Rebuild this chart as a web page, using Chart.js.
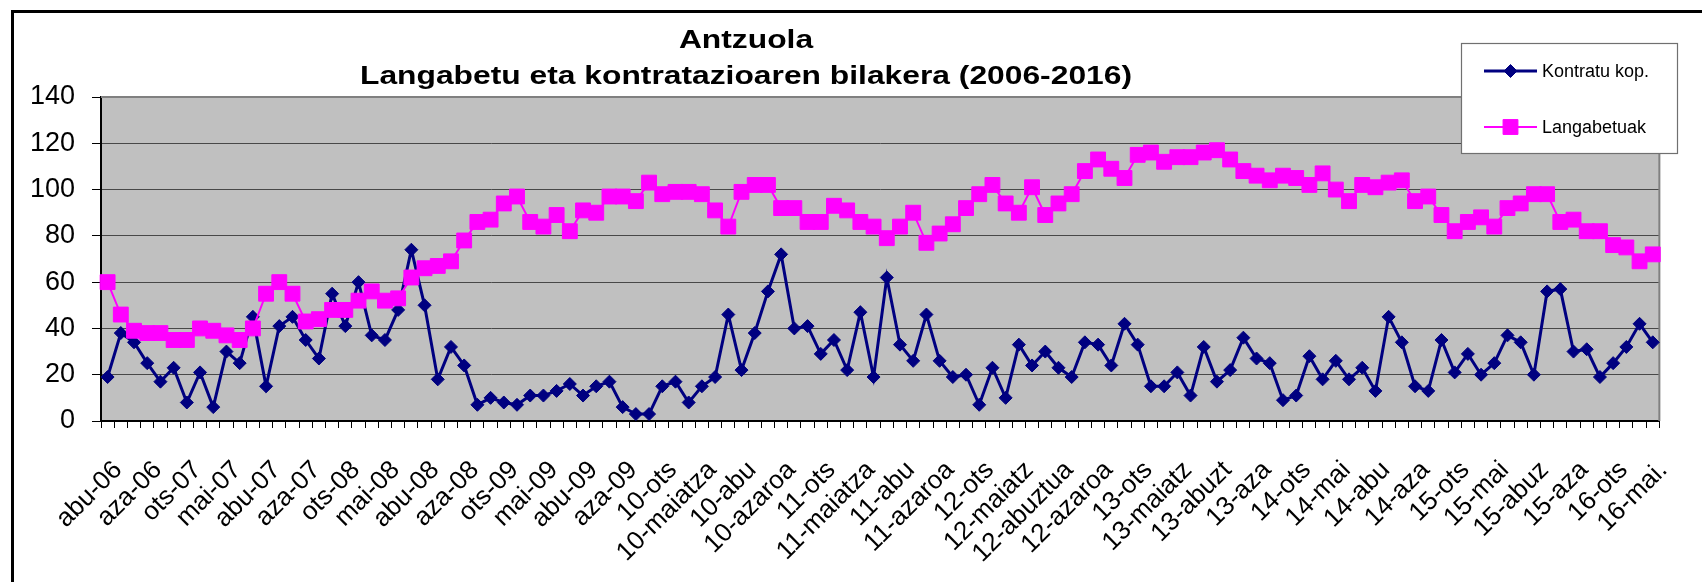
<!DOCTYPE html>
<html>
<head>
<meta charset="utf-8">
<script src="https://cdn.jsdelivr.net/npm/chart.js@4/dist/chart.umd.min.js"></script>
<style>
  html, body { margin: 0; padding: 0; background: #fff; }
  canvas { display: block; }
</style>
</head>
<body>
<canvas id="c" width="1702" height="582"></canvas>
<script>
const titleLines = ['Antzuola', 'Langabetu eta kontratazioaren bilakera (2006-2016)'];
const seriesNames = ['Kontratu kop.', 'Langabetuak'];

const tickLabels = ['abu-06','aza-06','ots-07','mai-07','abu-07','aza-07','ots-08','mai-08','abu-08','aza-08',
  'ots-09','mai-09','abu-09','aza-09','10-ots','10-maiatza','10-abu','10-azaroa','11-ots','11-maiatza',
  '11-abu','11-azaroa','12-ots','12-maiatz','12-abuztua','12-azaroa','13-ots','13-maiatz','13-abuzt','13-aza',
  '14-ots','14-mai','14-abu','14-aza','15-ots','15-mai','15-abuz','15-aza','16-ots','16-mai.'];

const kontratu = [
  19,38,34,25,17,23,8,21,6,30,
  25,45,15,41,45,35,27,55,41,60,
  37,35,48,74,50,18,32,24,7,10,
  8,7,11,11,13,16,11,15,17,6,
  3,3,15,17,8,15,19,46,22,38,
  56,72,40,41,29,35,22,47,19,62,
  33,26,46,26,19,20,7,23,10,33,
  24,30,23,19,34,33,24,42,33,15,
  15,21,11,32,17,22,36,27,25,9,
  11,28,18,26,18,23,13,45,34,15,
  13,35,21,29,20,25,37,34,20,56,
  57,30,31,19,25,32,42,34
];

const langabetuak = [
  60,46,39,38,38,35,35,40,39,37,
  35,40,55,60,55,43,44,48,48,52,
  56,52,53,62,66,67,69,78,86,87,
  94,97,86,84,89,82,91,90,97,97,
  95,103,98,99,99,98,91,84,99,102,
  102,92,92,86,86,93,91,86,84,79,
  84,90,77,81,85,92,98,102,94,90,
  101,89,94,98,108,113,109,105,115,116,
  112,114,114,116,117,113,108,106,104,106,
  105,102,107,100,95,102,101,103,104,95,
  97,89,82,86,88,84,92,94,98,98,
  86,87,82,82,76,75,69,72
];

const categories = kontratu.map((_, i) => (i % 3 === 0 ? tickLabels[i / 3] : ''));

const BLUE = '#000080';
const PINK = '#FF00FF';

function drawMarker(ctx, style, x, y, r, color) {
  ctx.save();
  ctx.fillStyle = color;
  ctx.strokeStyle = color;
  ctx.lineWidth = 1;
  ctx.beginPath();
  if (style === 'rectRot') {
    ctx.moveTo(x - r, y); ctx.lineTo(x, y - r); ctx.lineTo(x + r, y); ctx.lineTo(x, y + r);
  } else {
    const s = r * Math.SQRT1_2;
    ctx.rect(x - s, y - s, 2 * s, 2 * s);
  }
  ctx.closePath();
  ctx.fill();
  ctx.stroke();
  ctx.restore();
}

const decor = {
  id: 'decor',
  beforeDraw(chart) {
    const { ctx, chartArea: a } = chart;
    ctx.save();
    ctx.fillStyle = '#fff';
    ctx.fillRect(0, 0, chart.width, chart.height);
    ctx.fillStyle = '#C0C0C0';
    ctx.fillRect(a.left, a.top, a.right - a.left, a.bottom - a.top);
    ctx.strokeStyle = '#000';
    ctx.lineWidth = 3;
    ctx.beginPath();
    ctx.moveTo(12.5, chart.height + 5);
    ctx.lineTo(12.5, 11.5);
    ctx.lineTo(chart.width + 5, 11.5);
    ctx.stroke();
    ctx.restore();
  },
  beforeDatasetsDraw(chart) {
    const { ctx, chartArea: a } = chart;
    ctx.save();
    ctx.strokeStyle = '#808080';
    ctx.lineWidth = 2;
    ctx.beginPath();
    ctx.moveTo(a.left, a.top);
    ctx.lineTo(a.right, a.top);
    ctx.lineTo(a.right, a.bottom);
    ctx.stroke();
    ctx.restore();
  },
  afterDraw(chart) {
    const { ctx } = chart;
    ctx.save();
    // title
    ctx.fillStyle = '#000';
    ctx.font = 'bold 26px "Liberation Sans", Arial, sans-serif';
    ctx.textAlign = 'center';
    ctx.textBaseline = 'alphabetic';
    const w2 = ctx.measureText(titleLines[1]).width;
    const sx = 772 / w2;
    const cx = 746;
    [[titleLines[0], 48], [titleLines[1], 84]].forEach(([t, y]) => {
      ctx.save();
      ctx.translate(cx, y);
      ctx.scale(sx, 1);
      ctx.fillText(t, 0, 0);
      ctx.restore();
    });
    // legend
    const bx = 1461, by = 43, bw = 216, bh = 110;
    ctx.fillStyle = '#fff';
    ctx.fillRect(bx, by, bw, bh);
    ctx.strokeStyle = '#707070';
    ctx.lineWidth = 1.2;
    ctx.strokeRect(bx + 0.5, by + 0.5, bw, bh);
    const items = [
      { name: seriesNames[0], color: BLUE, style: 'rectRot', r: 6.5, y: 71, lw: 3 },
      { name: seriesNames[1], color: PINK, style: 'rect', r: 10.5, y: 127, lw: 2 }
    ];
    ctx.font = '18px "Liberation Sans", Arial, sans-serif';
    ctx.textAlign = 'left';
    ctx.textBaseline = 'middle';
    items.forEach(it => {
      ctx.strokeStyle = it.color;
      ctx.lineWidth = it.lw;
      ctx.beginPath();
      ctx.moveTo(1484, it.y);
      ctx.lineTo(1537, it.y);
      ctx.stroke();
      drawMarker(ctx, it.style, 1510.5, it.y, it.r, it.color);
      ctx.fillStyle = '#000';
      ctx.fillText(it.name, 1542, it.y + 1);
    });
    ctx.restore();
  }
};

new Chart(document.getElementById('c'), {
  type: 'line',
  data: {
    labels: categories,
    datasets: [
      {
        label: seriesNames[0],
        data: kontratu,
        borderColor: BLUE,
        backgroundColor: BLUE,
        borderWidth: 3,
        pointStyle: 'rectRot',
        pointRadius: 6.5,
        pointBorderWidth: 1,
        pointBackgroundColor: BLUE,
        pointBorderColor: BLUE,
        tension: 0,
        order: 1
      },
      {
        label: seriesNames[1],
        data: langabetuak,
        borderColor: PINK,
        backgroundColor: PINK,
        borderWidth: 2,
        pointStyle: 'rect',
        pointRadius: 10.5,
        pointBorderWidth: 1,
        pointBackgroundColor: PINK,
        pointBorderColor: PINK,
        tension: 0,
        order: 0
      }
    ]
  },
  options: {
    responsive: false,
    animation: false,
    devicePixelRatio: 1,
    events: [],
    layout: { padding: { left: 0, top: 97, right: 41, bottom: 0 } },
    plugins: {
      legend: { display: false },
      title: { display: false },
      tooltip: { enabled: false }
    },
    scales: {
      x: {
        type: 'category',
        offset: true,
        afterFit(scale) { scale.height = 161; },
        grid: {
          display: true,
          drawOnChartArea: false,
          offset: true,
          drawTicks: true,
          tickLength: 7,
          tickColor: '#000',
          tickWidth: 1
        },
        border: { display: true, color: '#000', width: 2 },
        ticks: {
          autoSkip: false,
          minRotation: 45,
          maxRotation: 45,
          padding: 27,
          labelOffset: 10.6,
          color: '#000',
          font: { family: '"Liberation Sans", Arial, sans-serif', size: 26 }
        }
      },
      y: {
        min: 0,
        max: 140,
        afterFit(scale) { scale.width = 101; },
        ticks: {
          stepSize: 20,
          padding: 17,
          color: '#000',
          font: { family: '"Liberation Sans", Arial, sans-serif', size: 27 }
        },
        grid: {
          color: '#484848',
          lineWidth: 1,
          tickLength: 9,
          tickColor: '#000',
          tickWidth: 1
        },
        border: { display: true, color: '#000', width: 2 }
      }
    }
  },
  plugins: [decor]
});
</script>
</body>
</html>
